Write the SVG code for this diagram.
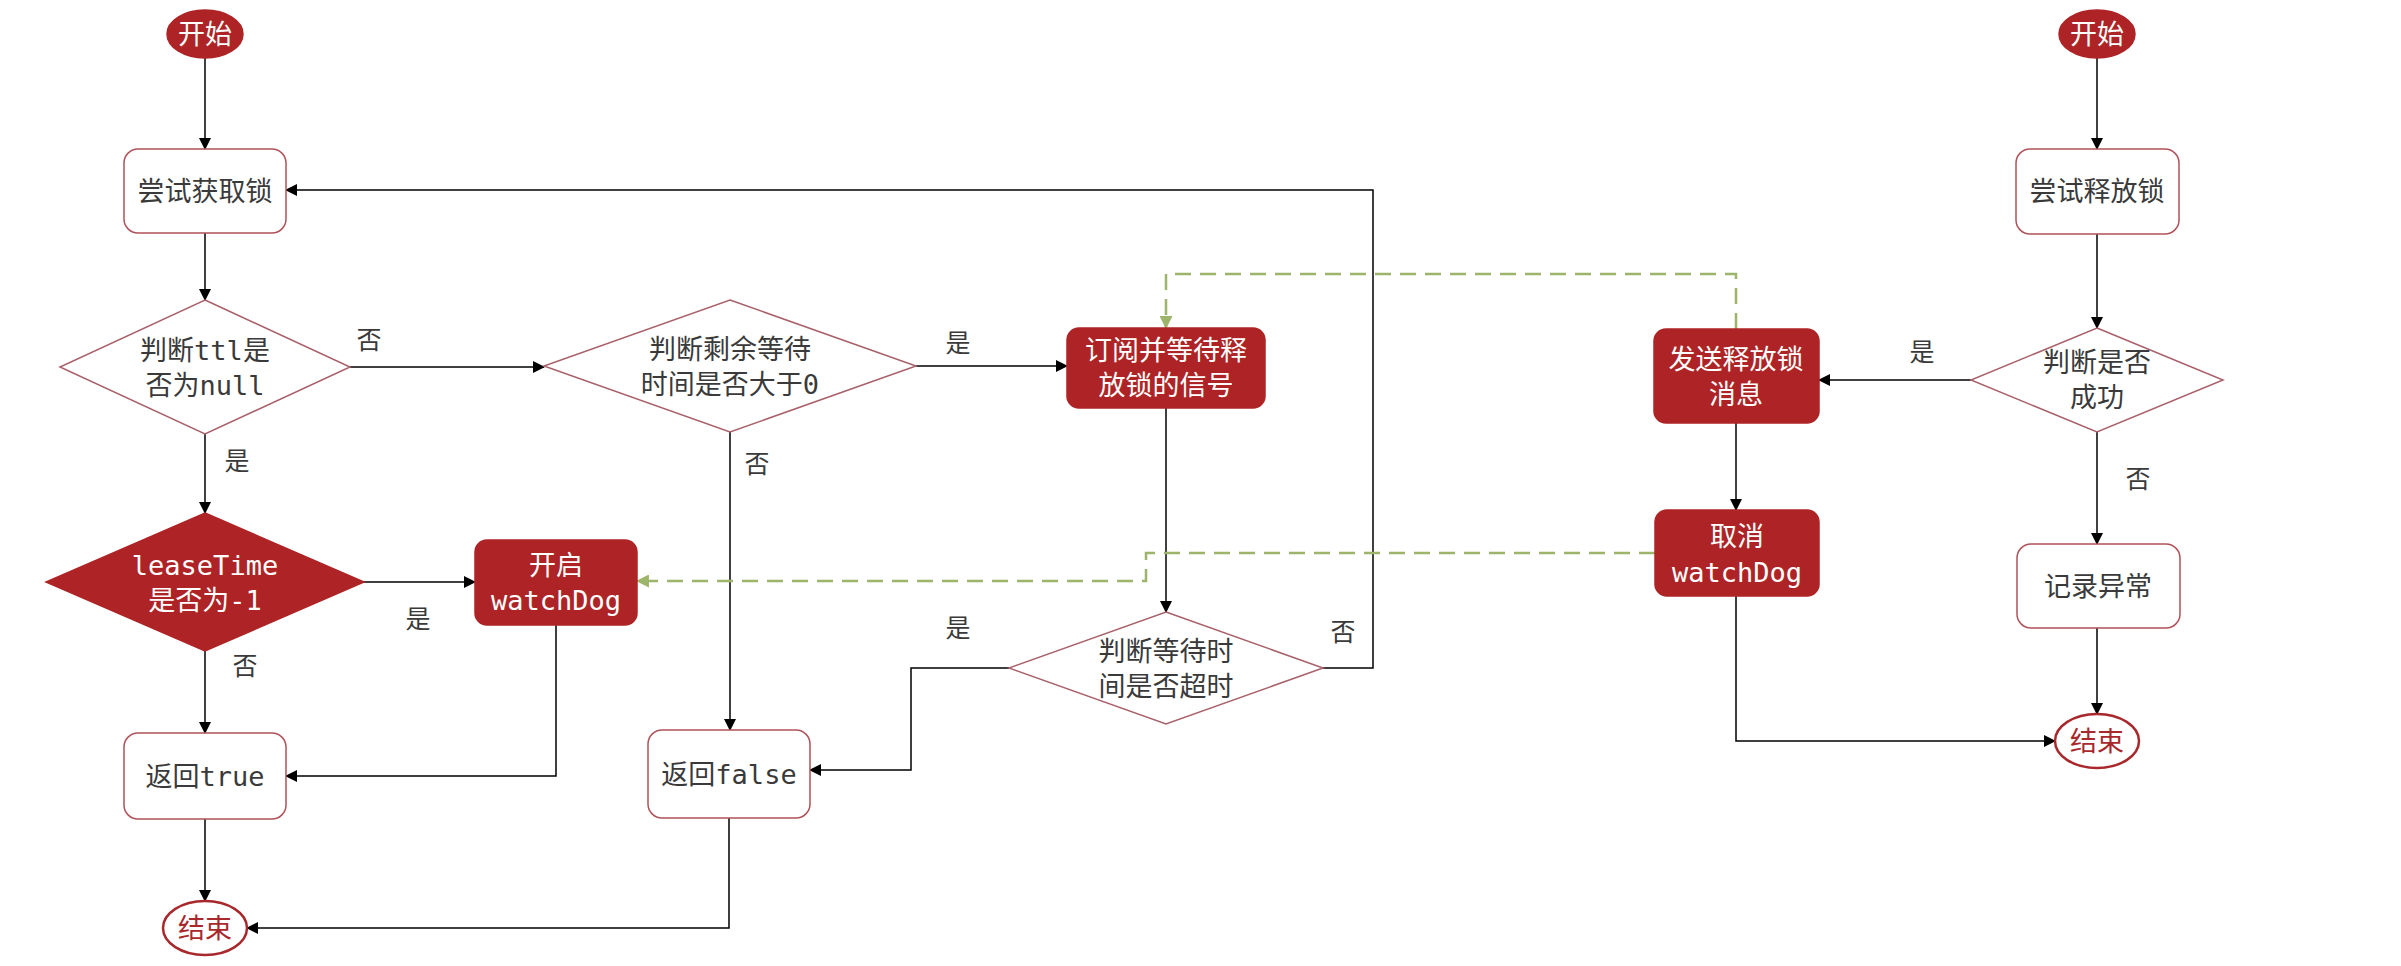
<svg xmlns="http://www.w3.org/2000/svg" width="2401" height="966" viewBox="0 0 2401 966">
<defs>
<marker id="ah" viewBox="0 0 12 12" refX="11" refY="6" markerWidth="12" markerHeight="12" markerUnits="userSpaceOnUse" orient="auto">
<path d="M0,0 L12,6 L0,12 z" fill="#000"/>
</marker>
<marker id="ahg" viewBox="0 0 12 12" refX="11" refY="6" markerWidth="13" markerHeight="13" markerUnits="userSpaceOnUse" orient="auto">
<path d="M0,0 L12,6 L0,12 z" fill="#9cb56a"/>
</marker>
<style>
text{font-family:"DejaVu Sans Mono","Noto Sans CJK SC",monospace;font-size:27px;text-anchor:middle;dominant-baseline:central}
.dark{fill:#ae2426;stroke:#ae2426;stroke-width:1.5}
.plain{fill:#fff;stroke:#b0525a;stroke-width:1.5}
.dia{fill:#fff;stroke:#a8606a;stroke-width:1.5}
.endE{fill:#fff;stroke:#a8282c;stroke-width:2.5}
.wt{fill:#fff}
.gt{fill:#3a3a3a}
.rt{fill:#a8282c}
.e{fill:none;stroke:#000;stroke-width:1.5;marker-end:url(#ah)}
.g{fill:none;stroke:#9cb56a;stroke-width:2.5;stroke-dasharray:16 9;marker-end:url(#ahg)}
.lb{fill:#3a3a3a;font-size:25px}
</style>
</defs>
<rect width="2401" height="966" fill="#fff"/>

<g id="connectors">
<path class="e" d="M205,58 V149"/>
<path class="e" d="M205,233 V300"/>
<path class="e" d="M350,367 H544"/>
<path class="e" d="M916,366 H1067"/>
<path class="e" d="M730,432 V730"/>
<path class="e" d="M205,434 V513"/>
<path class="e" d="M364,582 H475"/>
<path class="e" d="M205,651 V733"/>
<path class="e" d="M556,625 V776 H286"/>
<path class="e" d="M205,819 V901"/>
<path class="e" d="M729,818 V928 H247"/>
<path class="e" d="M1166,408 V612"/>
<path class="e" d="M1009,668 H911 V770 H810"/>
<path class="e" d="M1323,668 H1373 V190 H286"/>
<path class="e" d="M2097,58 V149"/>
<path class="e" d="M2097,234 V328"/>
<path class="e" d="M1971,380 H1819"/>
<path class="e" d="M1736,423 V510"/>
<path class="e" d="M1736,596 V741 H2055"/>
<path class="e" d="M2097,432 V544"/>
<path class="e" d="M2097,628 V714"/>
<path class="g" d="M1736,329 V274 H1166 V328"/>
<path class="g" d="M1655,553 H1146 V581 H637"/>
<text class="lb" x="369" y="340">否</text>
<text class="lb" x="958" y="343">是</text>
<text class="lb" x="757" y="464">否</text>
<text class="lb" x="237" y="461">是</text>
<text class="lb" x="418" y="619">是</text>
<text class="lb" x="245" y="666">否</text>
<text class="lb" x="958" y="628">是</text>
<text class="lb" x="1343" y="632">否</text>
<text class="lb" x="1922" y="352">是</text>
<text class="lb" x="2138" y="479">否</text>
</g>

<g id="start1"><ellipse class="dark" cx="205" cy="34" rx="38" ry="24"/><text class="wt" x="205" y="34">开始</text></g>
<g id="tryLock"><rect class="plain" x="124" y="149" width="162" height="84" rx="14"/><text class="gt" x="205" y="191">尝试获取锁</text></g>
<g id="ttlNull"><polygon class="dia" points="205,300 350,367 205,434 60,367"/><text class="gt" x="205" y="350">判断ttl是</text><text class="gt" x="205" y="385">否为null</text></g>
<g id="remainWait"><polygon class="dia" points="730,300 916,366 730,432 544,366"/><text class="gt" x="730" y="349">判断剩余等待</text><text class="gt" x="730" y="384">时间是否大于0</text></g>
<g id="subscribe"><rect class="dark" x="1067" y="328" width="198" height="80" rx="12"/><text class="wt" x="1166" y="350">订阅并等待释</text><text class="wt" x="1166" y="385">放锁的信号</text></g>
<g id="leaseTime"><polygon class="dark" points="205,513 364,582 205,651 46,582"/><text class="wt" x="205" y="565">leaseTime</text><text class="wt" x="205" y="600">是否为-1</text></g>
<g id="watchDog"><rect class="dark" x="475" y="540" width="162" height="85" rx="12"/><text class="wt" x="556" y="565">开启</text><text class="wt" x="556" y="600">watchDog</text></g>
<g id="retTrue"><rect class="plain" x="124" y="733" width="162" height="86" rx="14"/><text class="gt" x="205" y="776">返回true</text></g>
<g id="end1"><ellipse class="endE" cx="205" cy="928" rx="42" ry="27"/><text class="rt" x="205" y="928">结束</text></g>
<g id="retFalse"><rect class="plain" x="648" y="730" width="162" height="88" rx="14"/><text class="gt" x="729" y="774">返回false</text></g>
<g id="timeout"><polygon class="dia" points="1166,612 1323,668 1166,724 1009,668"/><text class="gt" x="1166" y="651">判断等待时</text><text class="gt" x="1166" y="686">间是否超时</text></g>

<g id="start2"><ellipse class="dark" cx="2097" cy="34" rx="38" ry="24"/><text class="wt" x="2097" y="34">开始</text></g>
<g id="tryRelease"><rect class="plain" x="2016" y="149" width="163" height="85" rx="14"/><text class="gt" x="2097" y="191">尝试释放锁</text></g>
<g id="success"><polygon class="dia" points="2097,328 2223,380 2097,432 1971,380"/><text class="gt" x="2097" y="362">判断是否</text><text class="gt" x="2097" y="397">成功</text></g>
<g id="sendMsg"><rect class="dark" x="1654" y="329" width="165" height="94" rx="12"/><text class="wt" x="1736" y="359">发送释放锁</text><text class="wt" x="1736" y="394">消息</text></g>
<g id="cancelDog"><rect class="dark" x="1655" y="510" width="164" height="86" rx="12"/><text class="wt" x="1737" y="536">取消</text><text class="wt" x="1737" y="572">watchDog</text></g>
<g id="logErr"><rect class="plain" x="2017" y="544" width="163" height="84" rx="14"/><text class="gt" x="2098" y="586">记录异常</text></g>
<g id="end2"><ellipse class="endE" cx="2097" cy="741" rx="42" ry="27"/><text class="rt" x="2097" y="741">结束</text></g>
</svg>
